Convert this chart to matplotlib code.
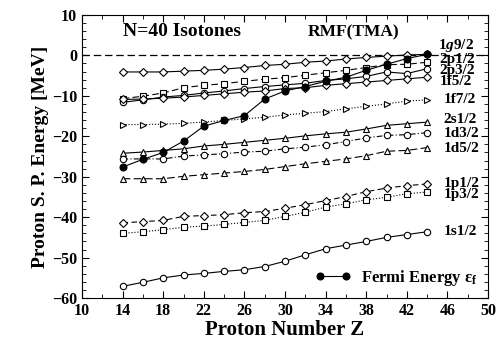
import matplotlib
matplotlib.use('Agg')
import matplotlib.pyplot as plt
from matplotlib.ticker import MultipleLocator, FixedLocator

plt.rcParams['font.family'] = 'Liberation Serif'
plt.rcParams['font.weight'] = 'bold'
plt.rcParams['axes.labelweight'] = 'bold'
plt.rcParams['mathtext.fontset'] = 'custom'
plt.rcParams['mathtext.rm'] = 'Liberation Serif:bold'
plt.rcParams['mathtext.it'] = 'Liberation Serif:italic:bold'

Z = [14, 16, 18, 20, 22, 24, 26, 28, 30, 32, 34, 36, 38, 40, 42, 44]

g9_2 = [-4.1, -4.1, -4.1, -3.9, -3.7, -3.4, -3.0, -2.5, -2.2, -1.7, -1.4, -0.9, -0.5, -0.2, 0.1, 0.25]
p1_2_2 = [-10.7, -10.1, -9.3, -8.0, -7.4, -7.0, -6.4, -5.9, -5.5, -4.9, -4.3, -3.7, -3.0, -2.3, -2.2, -1.7]
p3_2_2 = [-11.6, -11.0, -10.3, -9.9, -9.3, -8.8, -8.2, -7.7, -7.3, -6.9, -6.2, -5.8, -5.2, -4.1, -4.5, -3.3]
f5_2 = [-10.9, -10.8, -10.6, -10.3, -9.9, -9.5, -9.1, -8.8, -8.2, -8.0, -7.4, -7.0, -6.6, -6.2, -5.8, -5.4]
f7_2 = [-17.1, -17.1, -17.0, -16.8, -16.5, -16.1, -15.7, -15.3, -14.7, -14.3, -13.9, -13.2, -12.6, -12.0, -11.3, -11.0]
s1_2_2 = [-24.2, -23.9, -23.5, -23.1, -22.4, -22.0, -21.5, -21.0, -20.5, -19.9, -19.4, -19.0, -18.2, -17.3, -16.9, -16.5]
d3_2 = [-25.6, -25.6, -25.6, -24.9, -24.6, -24.3, -23.9, -23.7, -23.1, -22.7, -22.1, -21.3, -20.4, -19.8, -19.6, -19.1]
d5_2 = [-30.5, -30.5, -30.5, -29.9, -29.5, -29.1, -28.7, -28.2, -27.5, -26.8, -26.2, -25.6, -24.8, -23.7, -23.5, -22.8]
p1_2 = [-41.4, -41.1, -40.8, -39.8, -39.6, -39.4, -38.9, -38.6, -37.8, -36.9, -35.9, -34.9, -33.7, -32.8, -32.2, -31.8]
p3_2 = [-44.0, -43.6, -43.1, -42.5, -42.2, -41.8, -41.3, -40.8, -39.8, -38.8, -37.5, -36.7, -35.7, -35.1, -34.2, -33.8]
s1_2 = [-57.1, -56.1, -55.0, -54.3, -53.9, -53.4, -53.0, -52.2, -50.9, -49.3, -47.8, -46.9, -46.0, -45.0, -44.3, -43.6]
fermi = [-27.6, -25.7, -24.0, -21.2, -17.5, -16.1, -14.9, -10.8, -8.8, -7.7, -6.4, -5.4, -3.7, -2.2, -0.8, 0.25]

# (values, marker, linestyle, label, label x, label y)
levels = [
    (g9_2, 'D', '-', '1$\\mathit{g}$9/2', 45.1, 2.4),
    (p1_2_2, 's', (0, (6, 3)), '2p1/2', 45.2, -1.0),
    (p3_2_2, 'o', '-', '2p3/2', 45.2, -3.7),
    (f5_2, 'D', '-', '1f5/2', 45.2, -6.5),
    (f7_2, '>', ':', '1f7/2', 45.6, -10.9),
    (s1_2_2, '^', '-', '2s1/2', 45.6, -15.9),
    (d3_2, 'o', (0, (5, 2, 1, 2)), '1d3/2', 45.6, -19.2),
    (d5_2, '^', (0, (7, 3)), '1d5/2', 45.6, -22.9),
    (p1_2, 'D', (0, (5, 3)), '1p1/2', 45.6, -31.6),
    (p3_2, 's', ':', '1p3/2', 45.6, -34.4),
    (s1_2, 'o', '-', '1s1/2', 45.6, -43.6),
]

fig = plt.figure(figsize=(5, 3.47), dpi=100)
ax = fig.add_axes([0.164, 0.141, 0.812, 0.816])

ax.axhline(0, color='black', lw=0.9, ls=(0, (6, 3)), zorder=1)

for vals, m, ls, lab, lx, ly in levels:
    ms = 4.2 if m == 'D' else 4.6
    ax.plot(Z, vals, marker=m, ls=ls, color='black', lw=0.8, ms=ms,
            mfc='white', mec='black', mew=0.8)
    ax.text(lx, ly, lab, fontsize=11, fontweight='bold', va='center',
            ha='left', clip_on=False)

ax.plot(Z, fermi, marker='o', color='black', lw=0.8, ms=4.8, mfc='black',
        label='Fermi Energy \u03b5$_{\\rm f}$', zorder=5)

ax.text(14, 5.8, 'N=40 Isotones', fontsize=14, fontweight='bold', va='center')
ax.text(32.2, 5.8, 'RMF(TMA)', fontsize=12.5, fontweight='bold', va='center')

ax.legend(loc='lower right', frameon=False, numpoints=2,
          handlelength=2.2, borderaxespad=0.2, handletextpad=0.6,
          prop={'weight': 'bold', 'size': 12})

ax.set_xlim(10, 50)
ax.set_ylim(-60, 10)
ax.xaxis.set_major_locator(FixedLocator(list(range(10, 51, 4))))
ax.xaxis.set_minor_locator(MultipleLocator(2))
ax.yaxis.set_major_locator(MultipleLocator(10))
ax.yaxis.set_minor_locator(MultipleLocator(2))
ax.tick_params(which='both', direction='in', top=True, right=True, labelsize=11.5)
ax.tick_params(which='major', length=5)
ax.tick_params(which='minor', length=3)
yt = list(range(-60, 11, 10))
ax.set_yticks(yt)
ax.set_yticklabels([f'\u2212{-v}' if v < 0 else f'{v}' for v in yt])
for lbl in ax.get_xticklabels() + ax.get_yticklabels():
    lbl.set_fontweight('bold')

ax.set_xlabel('Proton Number Z', fontsize=15, fontweight='bold', labelpad=1)
ax.set_ylabel('Proton S. P. Energy [MeV]', fontsize=14, fontweight='bold', labelpad=2)

fig.savefig('out.png', dpi=100)
